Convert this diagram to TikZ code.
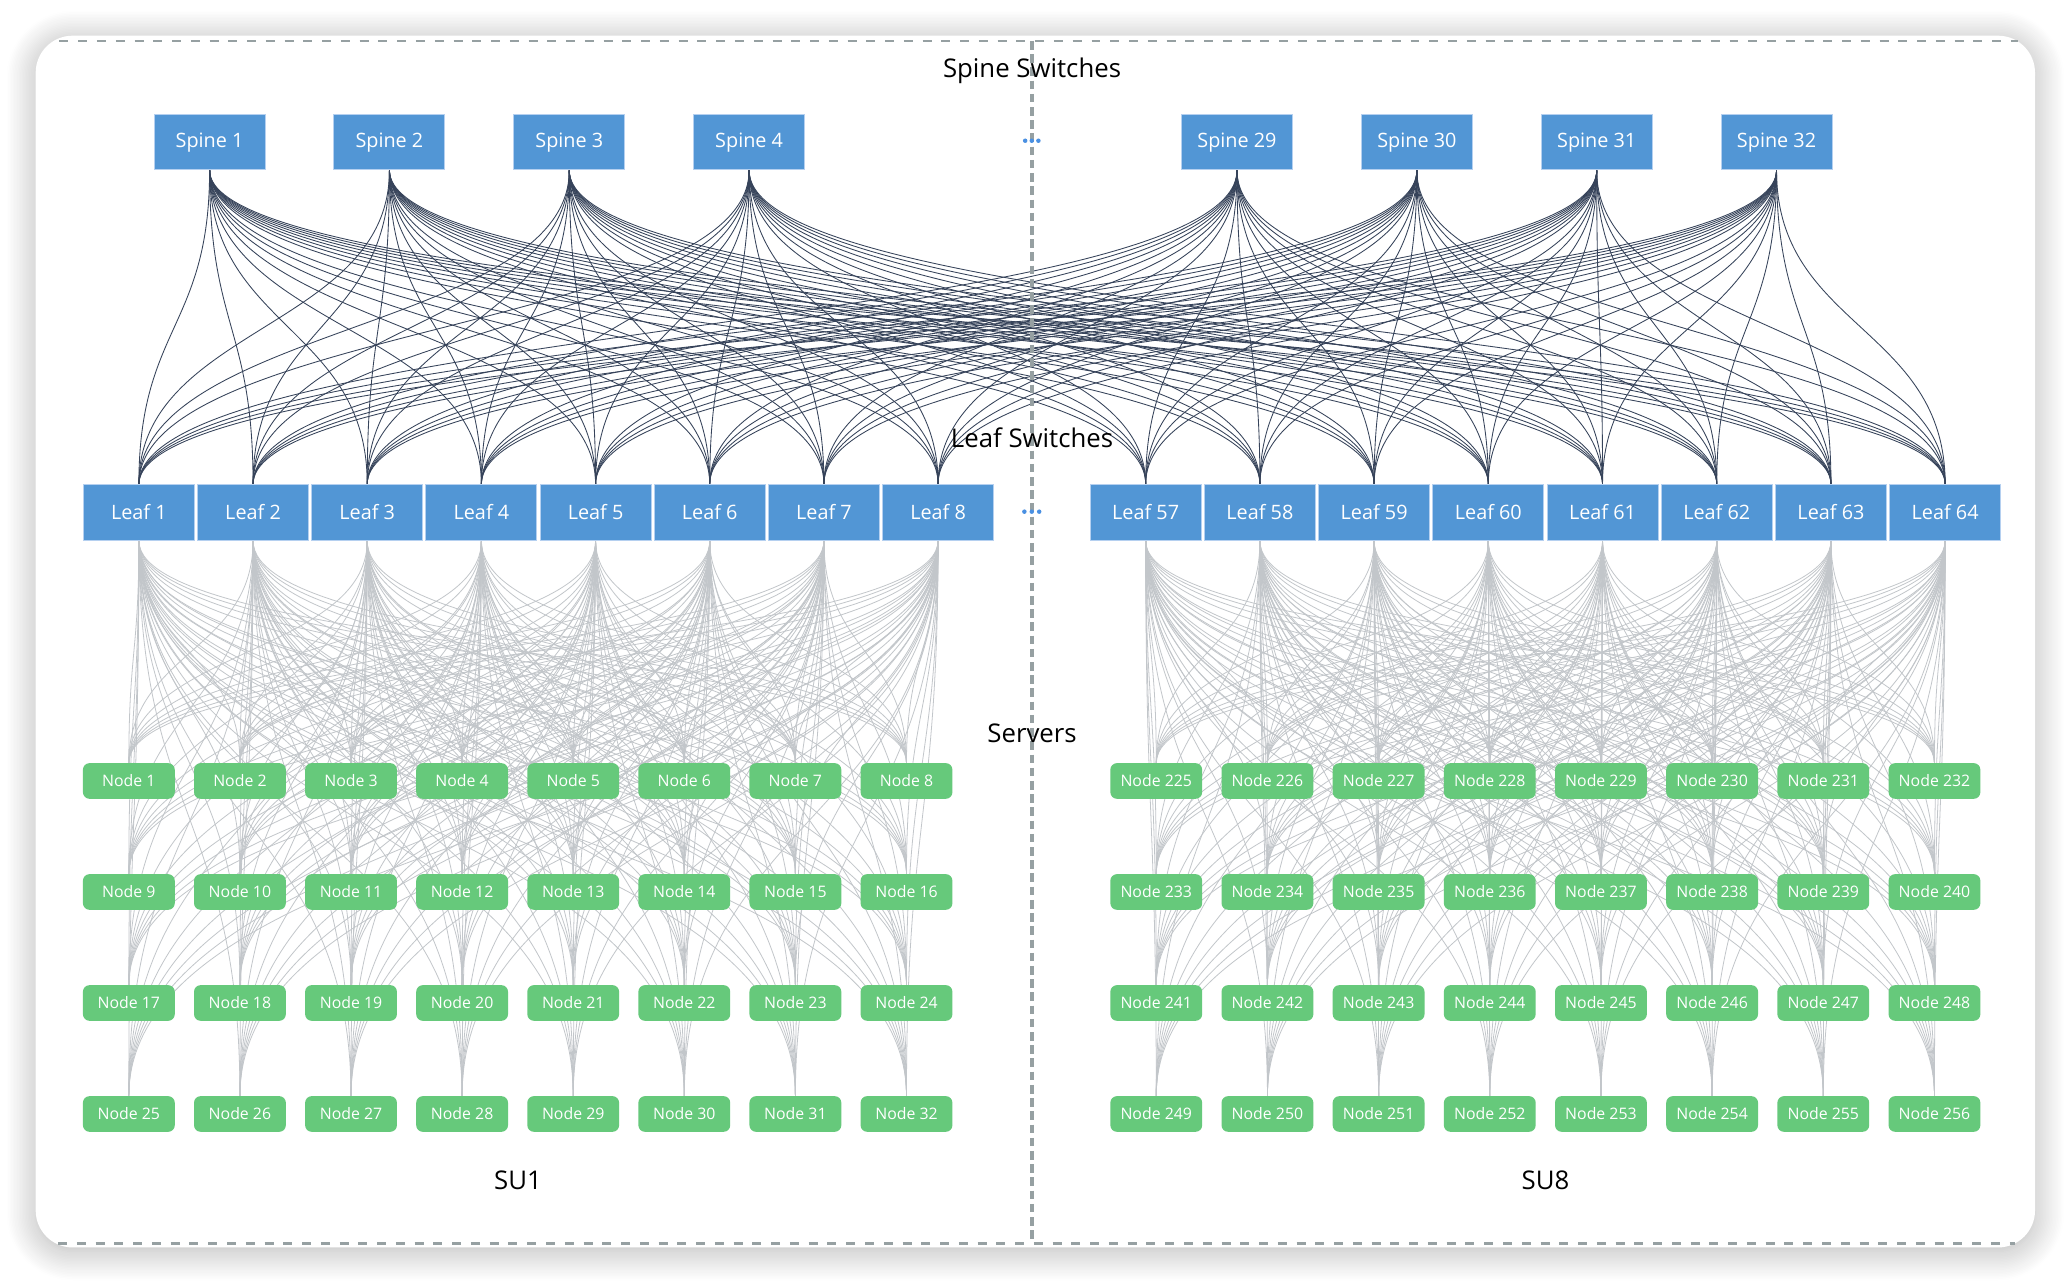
\documentclass[tikz,border=0pt]{standalone}
\usepackage{fontspec}
\setmainfont{Open Sans}
\usetikzlibrary{shadows.blur}
\definecolor{boxblue}{HTML}{5296D5}
\definecolor{boxline}{HTML}{B5D0F0}
\definecolor{srvgreen}{HTML}{66C97B}
\definecolor{spinelinkc}{HTML}{36435A}
\definecolor{srvlinkc}{HTML}{C2C6CA}
\definecolor{dashgray}{HTML}{96A0A2}
\definecolor{dotblue}{HTML}{4A90E2}
\pgfdeclarelayer{bg}
\pgfdeclarelayer{edges}
\pgfsetlayers{bg,edges,main}
\begin{document}
\begin{tikzpicture}[x=1pt,y=-1pt,
  switchbox/.style={rectangle, fill=boxblue, draw=boxline, line width=0.8pt,
    minimum width=84pt, minimum height=42pt, inner sep=0pt, text=white,
    font=\fontsize{15}{17}\selectfont},
  server/.style={rectangle, rounded corners=5pt, fill=srvgreen,
    minimum width=69.5pt, minimum height=27pt, inner sep=0pt, text=white,
    font=\fontsize{12}{14}\selectfont},
  title/.style={anchor=base, text=black, font=\fontsize{19.5}{23}\selectfont},
  spinelink/.style={draw=spinelinkc, line width=0.65pt},
  srvlink/.style={draw=srvlinkc, line width=0.6pt},
  hdash/.style={draw=dashgray, line width=2.2pt, dash pattern=on 6.8pt off 7.4pt},
  vdash/.style={draw=dashgray, line width=2.6pt, dash pattern=on 6.5pt off 3.5pt},
  dotmark/.style={fill=dotblue}
  ]
\useasboundingbox (0,0) rectangle (1568,970);
\begin{pgfonlayer}{bg}
  \fill[white, blur shadow={shadow blur radius=22pt, shadow xshift=0pt,
    shadow yshift=-3pt, shadow opacity=30, shadow blur steps=20},
    rounded corners=28pt] (27,27) rectangle (1540,944);
\end{pgfonlayer}

% titles
\node[title] (tspine) at (781,59) {Spine Switches};
\node[title] (tleaf) at (781,339) {Leaf Switches};
\node[title] (tserv) at (781,562) {Servers};
\node[title] (tsu1) at (392,900) {SU1};
\node[title] (tsu8) at (1169.5,900) {SU8};

% spines
\foreach \s in {1,2,3,4}{
  \node[switchbox] (sp\s) at ({158.6+136.1*(\s-1)},107.6) {Spine \s};
}
\foreach \s in {29,30,31,32}{
  \node[switchbox] (sp\s) at ({936.1+136.1*(\s-29)},107.6) {Spine \s};
}
% leaves
\foreach \l in {1,...,8}{
  \node[switchbox] (lf\l) at ({105.1+86.4*(\l-1)},387.8) {Leaf \l};
}
\foreach \l in {57,...,64}{
  \node[switchbox] (lf\l) at ({867+86.43*(\l-57)},387.8) {Leaf \l};
}
% servers
\foreach \r in {1,...,4}{
  \foreach \c in {1,...,8}{
    \pgfmathtruncatemacro\ka{8*(\r-1)+\c}
    \pgfmathtruncatemacro\kb{224+8*(\r-1)+\c}
    \node[server] (n\ka) at ({97.5+84.07*(\c-1)},{591+84*(\r-1)}) {Node \ka};
    \node[server] (n\kb) at ({875+84.13*(\c-1)},{591+84*(\r-1)}) {Node \kb};
  }
}

% ellipsis dots
\fill[dotmark] (775.8,106.5) circle (1.7pt) (780.8,106.5) circle (1.7pt) (785.8,106.5) circle (1.7pt);
\fill[dotmark] (775.2,387.2) circle (1.7pt) (780.8,387.2) circle (1.7pt) (786.4,387.2) circle (1.7pt);

\begin{pgfonlayer}{edges}
  \foreach \s in {1,2,3,4,29,30,31,32}{
    \foreach \l in {1,2,3,4,5,6,7,8,57,58,59,60,61,62,63,64}{
      \draw[spinelink] (sp\s.south) .. controls +(0,119.2) and +(0,-119.2) .. (lf\l.north);
    }
  }
  \foreach \l in {1,...,8}{
    \foreach \k in {1,...,32}{
      \pgfmathsetmacro\hh{84.4+42*floor((\k-1)/8)}
      \draw[srvlink] (lf\l.south) .. controls +(0,\hh) and +(0,-\hh) .. (n\k.north);
    }
  }
  \foreach \l in {57,...,64}{
    \foreach \k in {225,...,256}{
      \pgfmathsetmacro\hh{84.4+42*floor((\k-225)/8)}
      \draw[srvlink] (lf\l.south) .. controls +(0,\hh) and +(0,-\hh) .. (n\k.north);
    }
  }
  % dashed frame lines and divider
  \coordinate (dtl) at (45,31);
  \coordinate (dtr) at (1527,31);
  \coordinate (dbl) at (44,941);
  \coordinate (dbr) at (1525,941);
  \coordinate (dvt) at (781,31);
  \coordinate (dvb) at (781,941);
  \draw[hdash] (dtl) -- (dtr);
  \draw[hdash] (dbl) -- (dbr);
  \draw[vdash] (dvt) -- (dvb);
\end{pgfonlayer}
\end{tikzpicture}
\end{document}
